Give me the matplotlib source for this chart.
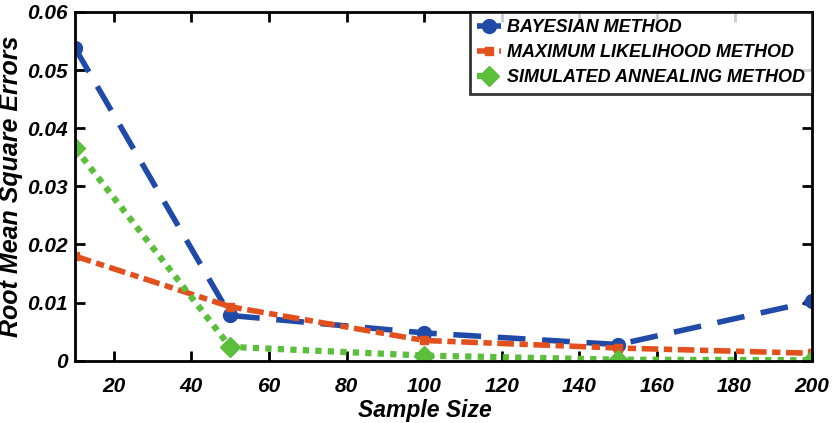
import matplotlib
matplotlib.use("Agg")
import matplotlib.pyplot as plt

plt.rcParams['font.family'] = ['Liberation Sans', 'DejaVu Sans']

sample_size = [10, 50, 100, 150, 200]
bayes = [0.0538, 0.0078, 0.0048, 0.0028, 0.0102]
ml = [0.0180, 0.0093, 0.0035, 0.0022, 0.0013]
sa = [0.0366, 0.0024, 0.0009, 0.0002, 0.0001]

fig = plt.figure(figsize=(8.33, 4.23), dpi=100)
ax = fig.add_axes([0.09, 0.147, 0.885, 0.825])

ax.plot(sample_size, bayes, color="#1f4aa8", lw=4, ls=(0, (5, 3)), marker="o", ms=10,
        label="BAYESIAN METHOD")
ax.plot(sample_size, ml, color="#e2501e", lw=4, ls=(0, (3, 1, 1.5, 1)), marker="s", ms=6,
        label="MAXIMUM LIKELIHOOD METHOD")
ax.plot(sample_size, sa, color="#5cbf3c", lw=4.5, ls=(0, (1, 1)), marker="D", ms=10,
        label="SIMULATED ANNEALING METHOD")

ax.set_xlim(10, 200)
ax.set_ylim(0, 0.06)
ax.set_xticks([20, 40, 60, 80, 100, 120, 140, 160, 180, 200])
ax.set_yticks([0, 0.01, 0.02, 0.03, 0.04, 0.05, 0.06])
ax.set_yticklabels(["0", "0.01", "0.02", "0.03", "0.04", "0.05", "0.06"])
ax.tick_params(direction="in", top=True, right=True, width=2, length=7, labelsize=15)
ax.tick_params(axis="x", pad=12)
ax.tick_params(axis="y", pad=5)
for lab in ax.get_xticklabels() + ax.get_yticklabels():
    lab.set_fontweight("bold"); lab.set_fontstyle("italic")
for s in ax.spines.values():
    s.set_linewidth(2)

ax.set_xlabel("Sample Size", fontsize=16.5, fontweight="bold", fontstyle="italic")
ax.xaxis.set_label_coords(0.475, -0.11)
ax.set_ylabel("Root Mean Square Errors", fontsize=18, fontweight="bold", fontstyle="italic")
ax.yaxis.set_label_coords(-0.071, 0.5)

leg = ax.legend(loc="upper right", bbox_to_anchor=(1.0, 1.0), borderaxespad=0,
                fancybox=False, edgecolor="black",
                handlelength=1.3, handletextpad=0.35, borderpad=0.4, labelspacing=0.45,
                prop=dict(size=13, weight="bold", style="italic"))
leg.get_frame().set_linewidth(2)

fig.savefig("out.png", dpi=100)
